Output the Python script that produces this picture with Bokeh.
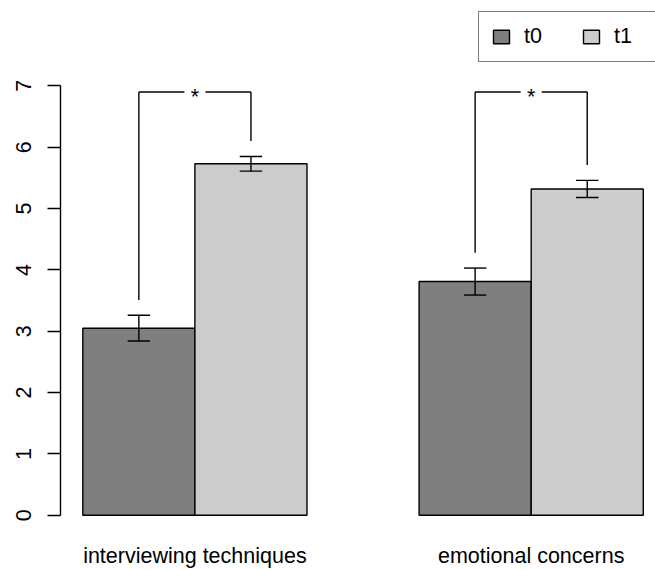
from bokeh.plotting import figure
from bokeh.models import Range1d, FixedTicker, Legend, LegendItem
from bokeh.embed import file_html
from bokeh.resources import INLINE
from bokeh.core.properties import value

# ---- data ----
categories = ["interviewing techniques", "emotional concerns"]
series = ["t0", "t1"]
t0_mean = [3.05, 3.81]
t1_mean = [5.73, 5.32]
t0_err = [0.21, 0.22]
t1_err = [0.12, 0.14]
sig_marks = ["*", "*"]
y_ticks = [0, 1, 2, 3, 4, 5, 6, 7]

# ---- layout / style constants ----
FONT = "Liberation Sans"
FS = "21.5px"
BAR_W = 1.0
GROUP_SPACE = 1.0
CAP = 0.1
BRACKET_Y = 6.9
BRACKET_GAP = 0.25
STAR_GAP = 0.094
C_T0 = "#7f7f7f"
C_T1 = "#cccccc"
LW = 1.4

step = 2 * BAR_W + GROUP_SPACE
t0_x = [GROUP_SPACE + BAR_W / 2 + i * step for i in range(len(categories))]
t1_x = [x + BAR_W for x in t0_x]
centers = [x + BAR_W / 2 for x in t0_x]

p = figure(width=655, height=570, output_backend="svg", toolbar_location=None,
           x_range=Range1d(0.801, 6.109), y_range=Range1d(-0.281, 8.392),
           min_border_left=60, min_border_right=0, min_border_top=0,
           min_border_bottom=36)
p.outline_line_color = None
p.grid.visible = False
p.background_fill_color = "white"
p.border_fill_color = "white"

# y axis
ya = p.yaxis[0]
ya.ticker = FixedTicker(ticks=y_ticks)
ya.bounds = (0, 7)
ya.major_tick_out = 13
ya.major_tick_in = 0
ya.minor_tick_out = 0
ya.minor_tick_in = 0
ya.axis_line_width = LW
ya.major_tick_line_width = LW
ya.axis_line_color = "black"
ya.major_tick_line_color = "black"
ya.major_label_orientation = "vertical"
ya.major_label_text_font = FONT
ya.major_label_text_font_size = FS
ya.major_label_text_color = "black"
ya.major_label_standoff = 16

# x axis (category labels)
xa = p.xaxis[0]
xa.ticker = FixedTicker(ticks=centers)
xa.major_label_overrides = {c: cat for c, cat in zip(centers, categories)}
xa.axis_line_color = None
xa.major_tick_line_color = None
xa.minor_tick_line_color = None
xa.major_tick_out = 0
xa.major_tick_in = 0
xa.major_label_text_font = FONT
xa.major_label_text_font_size = FS
xa.major_label_text_color = "black"
xa.major_label_standoff = 11

# bars
r0 = p.vbar(x=t0_x, top=t0_mean, bottom=0, width=BAR_W, fill_color=C_T0,
            line_color="black", line_width=LW)
r1 = p.vbar(x=t1_x, top=t1_mean, bottom=0, width=BAR_W, fill_color=C_T1,
            line_color="black", line_width=LW)

# error bars
for xs, m, e in ((t0_x, t0_mean, t0_err), (t1_x, t1_mean, t1_err)):
    lo = [a - b for a, b in zip(m, e)]
    hi = [a + b for a, b in zip(m, e)]
    p.segment(x0=xs, y0=lo, x1=xs, y1=hi, line_color="black", line_width=LW)
    p.segment(x0=[x - CAP for x in xs], y0=lo, x1=[x + CAP for x in xs], y1=lo,
              line_color="black", line_width=LW)
    p.segment(x0=[x - CAP for x in xs], y0=hi, x1=[x + CAP for x in xs], y1=hi,
              line_color="black", line_width=LW)

# significance brackets
yl = [m + e + BRACKET_GAP for m, e in zip(t0_mean, t0_err)]
yr = [m + e + BRACKET_GAP for m, e in zip(t1_mean, t1_err)]
lvl = [BRACKET_Y] * len(categories)
p.segment(x0=t0_x, y0=yl, x1=t0_x, y1=lvl, line_color="black", line_width=LW)
p.segment(x0=t0_x, y0=lvl, x1=[c - STAR_GAP for c in centers], y1=lvl,
          line_color="black", line_width=LW)
p.segment(x0=[c + STAR_GAP for c in centers], y0=lvl, x1=t1_x, y1=lvl,
          line_color="black", line_width=LW)
p.segment(x0=t1_x, y0=yr, x1=t1_x, y1=lvl, line_color="black", line_width=LW)
p.text(x=centers, y=lvl, text=sig_marks, text_align="center",
       text_baseline="middle", text_font=value(FONT), text_font_size=FS,
       text_color="black", y_offset=5)

# legend
legend = Legend(items=[LegendItem(label=series[0], renderers=[r0]),
                       LegendItem(label=series[1], renderers=[r1])],
                orientation="horizontal", location=(418, 470),
                glyph_width=20, glyph_height=17, label_standoff=13,
                label_width=46, spacing=11, padding=12, margin=0,
                border_line_color="black", border_line_width=LW,
                background_fill_color="white", background_fill_alpha=1.0,
                label_text_font=FONT, label_text_font_size=FS,
                label_text_color="black")
p.add_layout(legend)

open("out.html", "w").write(file_html(p, INLINE))
